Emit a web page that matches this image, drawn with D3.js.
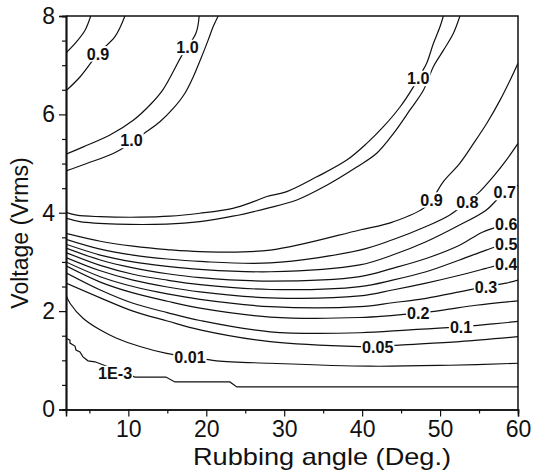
<!DOCTYPE html>
<html>
<head>
<meta charset="utf-8">
<script src="https://cdn.jsdelivr.net/npm/d3@7"></script>
<style>
  body { margin: 0; background: #fff; }
  svg text { font-family: "Liberation Sans", Arial, sans-serif; fill: #111; }
  .lbl { font-family: "Liberation Sans", Arial, sans-serif; font-weight: bold; font-size: 17px; }
</style>
</head>
<body>
<svg width="537" height="475"></svg>
<script>
// tick labels
const xTicks = [10, 20, 30, 40, 50, 60]
const yTicks = [0, 2, 4, 6, 8]

// contour lines, [angle, voltage]
const c1e3 = [[2,1.45],[2.51,1.41],[2.51,1.35],[3.15,1.29],[3.28,1.21],[3.79,1.17],[4.18,1.07],[4.82,0.99],[5.72,0.97],
  [10.85,0.66],[14.82,0.66],[15.97,0.56],[23.03,0.56],[23.92,0.46],[60,0.46]]
const c001 = [[2,2.33],[2.51,2.16],[4.22,1.85],[6.36,1.62],[8.5,1.45],[11.49,1.28],[14.91,1.14],[17.9,1.07],[21.32,0.99],
  [28.15,0.94],[40.97,0.88],[51.23,0.9],[60,0.94]]
const c005 = [[2,2.57],[6.4,2.27],[10.6,2.0],[15,1.8],[19.2,1.62],[28.2,1.38],[39.7,1.28],[42,1.28],[44.8,1.31],[52.5,1.38],[60,1.48]]
const c01 = [[2,2.78],[6.4,2.43],[10.6,2.16],[15,1.97],[19.2,1.81],[28.2,1.58],[39.7,1.56],[46.1,1.62],[52.7,1.68],[56.8,1.74],[60,1.79]]
const c02 = [[2,2.92],[6.4,2.59],[10.6,2.37],[15,2.2],[19.2,2.06],[28.2,1.88],[39.7,1.87],[47.2,1.96],[50.4,2.02],[54.6,2.12],[60,2.21]]
const c03 = [[2,3.0],[6.4,2.7],[10.6,2.5],[15,2.35],[19.2,2.24],[28.2,2.09],[39.7,2.09],[43.9,2.17],[48.2,2.26],[52.5,2.39],[55.9,2.5],[58.5,2.57],[60,2.63]]
const c04 = [[2,3.09],[6.4,2.82],[10.6,2.63],[15,2.49],[19.2,2.39],[28.2,2.27],[39.7,2.31],[43.9,2.43],[48.2,2.57],[52.5,2.73],[55.9,2.87],[58.5,2.98],[60,3.04]]
const c05 = [[2,3.19],[6.4,2.93],[10.6,2.75],[15,2.63],[19.2,2.54],[28.2,2.44],[39.7,2.5],[43.9,2.63],[48.2,2.8],[52.5,3.04],[55.9,3.24],[58.5,3.38],[60,3.47]]
const c06 = [[2,3.28],[6.4,3.04],[10.6,2.88],[15,2.76],[19.2,2.68],[28.2,2.61],[39.7,2.7],[43.9,2.87],[48.2,3.07],[52.5,3.34],[55.5,3.61],[58.5,3.77],[60,3.87]]
const c07 = [[2,3.36],[6.4,3.14],[10.6,3.0],[15,2.91],[19.2,2.85],[28.2,2.8],[39.7,2.94],[43.9,3.14],[48.2,3.41],[52.5,3.75],[55.9,4.05],[58.3,4.42],[60,4.56]]
const c08 = [[2,3.46],[6.4,3.26],[10.6,3.14],[15,3.06],[19.2,3.01],[28.2,2.98],[39.7,3.24],[43.9,3.45],[48.2,3.72],[51.2,3.95],
  [53.5,4.22],[55.1,4.43],[56.8,4.73],[58.5,5.07],[60,5.41]]
const c09a = [[2,3.58],[6.4,3.42],[10.6,3.32],[15,3.25],[19.2,3.21],[28.2,3.24],[39.7,3.65],[43.9,3.81],[48.3,4.14],[50.4,4.63],
  [52.5,5.0],[54.3,5.41],[56,5.82],[57.7,6.29],[59,6.7],[60,7.04]]
const c09b = [[2,7.25],[3.37,7.48],[4.44,7.71],[5.17,8]]
const c09c = [[2,6.48],[3.79,6.76],[6.14,7.24],[8.28,7.58],[9.56,8]]
const c10a = [[2,4.01],[3.37,3.95],[6.36,3.92],[11.49,3.91],[15.33,3.93],[19.18,3.99],[23.41,4.09],[25.97,4.22],[27.77,4.33],
  [30.33,4.43],[34.18,4.73],[38.03,5.07],[40.59,5.41],[42.73,5.75],[44.86,6.15],[46.58,6.56],[47.22,6.74],[48.28,7.04],
  [49.14,7.44],[49.99,7.78],[50.42,8]]
const c10b = [[2,3.89],[3.79,3.82],[8.5,3.77],[14.91,3.77],[19.18,3.82],[23.41,3.93],[27.77,4.09],[31.62,4.26],[35.46,4.56],
  [39.31,4.93],[41.87,5.21],[44.01,5.61],[46.14,6.09],[47.86,6.49],[49.14,6.97],[50.42,7.3],[51.71,7.65],[52.55,8]]
const c10c = [[2,5.19],[4.22,5.34],[7.64,5.58],[10.63,5.88],[12.77,6.19],[14.47,6.51],[15.76,6.87],[16.83,7.19],[18.67,7.65],[19.09,8]]
const c10d = [[2,4.85],[4.65,5.0],[8.5,5.24],[12.35,5.65],[14.05,5.85],[15.76,6.12],[17.26,6.43],[18.32,6.76],[19.4,7.17],
  [20.24,7.51],[20.88,7.78],[21.53,8]]

// contour labels: text, angle, voltage
const labels = [
  ['1E-3', 8.3, 0.74], ['0.01', 17.9, 1.07], ['0.05', 42.0, 1.28], ['0.1', 52.7, 1.68],
  ['0.2', 47.2, 1.96], ['0.3', 55.9, 2.5], ['0.4', 58.5, 2.96], ['0.5', 58.5, 3.36],
  ['0.6', 58.5, 3.78], ['0.7', 58.3, 4.42], ['0.8', 53.5, 4.22], ['0.9', 48.9, 4.27],
  ['0.9', 6.1, 7.24], ['1.0', 10.4, 5.48], ['1.0', 17.6, 7.37], ['1.0', 47.2, 6.74]
]

const svg = d3.select('svg')
const x = d3.scaleLinear().domain([2, 60]).range([66, 518])
const y = d3.scaleLinear().domain([0, 8]).range([409.5, 16])

svg.append('clipPath').attr('id', 'plot')
  .append('rect').attr('x', 66).attr('y', 16).attr('width', 452).attr('height', 393.5)

const smooth = d3.line().x(d => x(d[0])).y(d => y(d[1])).curve(d3.curveCatmullRom.alpha(0.5))
const straight = d3.line().x(d => x(d[0])).y(d => y(d[1]))

const lines = svg.append('g').attr('clip-path', 'url(#plot)')
  .attr('fill', 'none').attr('stroke', '#111').attr('stroke-width', 1.2)

lines.append('path').attr('d', straight(c1e3))
;[c001, c005, c01, c02, c03, c04, c05, c06, c07, c08, c09a, c09b, c09c, c10a, c10b, c10c, c10d]
  .forEach(c => lines.append('path').attr('d', smooth(c)))

// labels sit on a white patch so the line is broken under them
const lg = svg.append('g').attr('clip-path', 'url(#plot)')
labels.forEach(l => {
  const g = lg.append('g').attr('transform', `translate(${x(l[1])},${y(l[2])}) scale(0.95,1)`)
  const t = g.append('text').attr('class', 'lbl').attr('text-anchor', 'middle').attr('dy', '0.36em').text(l[0])
  const b = t.node().getBBox()
  g.insert('rect', 'text').attr('x', b.x - 1).attr('y', b.y + 2).attr('width', b.width + 2).attr('height', b.height - 4)
    .attr('fill', '#fff')
})

// axes
const xAxis = svg.append('g').attr('transform', 'translate(0,409.5)')
  .call(d3.axisBottom(x).tickValues(xTicks).tickSize(7).tickPadding(4))
xAxis.append('g').call(d3.axisBottom(x).tickValues(d3.range(5, 60, 10)).tickSize(4).tickFormat(''))
const yAxis = svg.append('g').attr('transform', 'translate(66,0)')
  .call(d3.axisLeft(y).tickValues(yTicks).tickSize(7).tickPadding(4))
yAxis.append('g').call(d3.axisLeft(y).tickValues(d3.range(0.5, 8, 1)).tickSize(4).tickFormat(''))
yAxis.append('g').call(d3.axisLeft(y).tickValues([1, 3, 5, 7]).tickSize(4).tickFormat(''))

svg.selectAll('.domain').attr('stroke', '#111').attr('stroke-width', 1.5)
svg.selectAll('.tick line').attr('stroke', '#111').attr('stroke-width', 1.2)
svg.selectAll('.tick text').attr('font-size', 23).attr('fill', '#111')
  .attr('font-family', '"Liberation Sans", Arial, sans-serif')

// frame top and right
svg.append('path').attr('d', `M66,16H518V409.5`).attr('fill', 'none').attr('stroke', '#111').attr('stroke-width', 1.5)

svg.append('text').attr('x', 322).attr('y', 465).attr('text-anchor', 'middle')
  .attr('font-size', 24).attr('textLength', 258).attr('lengthAdjust', 'spacingAndGlyphs')
  .text('Rubbing angle (Deg.)')
svg.append('text').attr('transform', 'translate(28,233) rotate(-90)').attr('text-anchor', 'middle')
  .attr('font-size', 23).text('Voltage (Vrms)')
</script>
</body>
</html>
